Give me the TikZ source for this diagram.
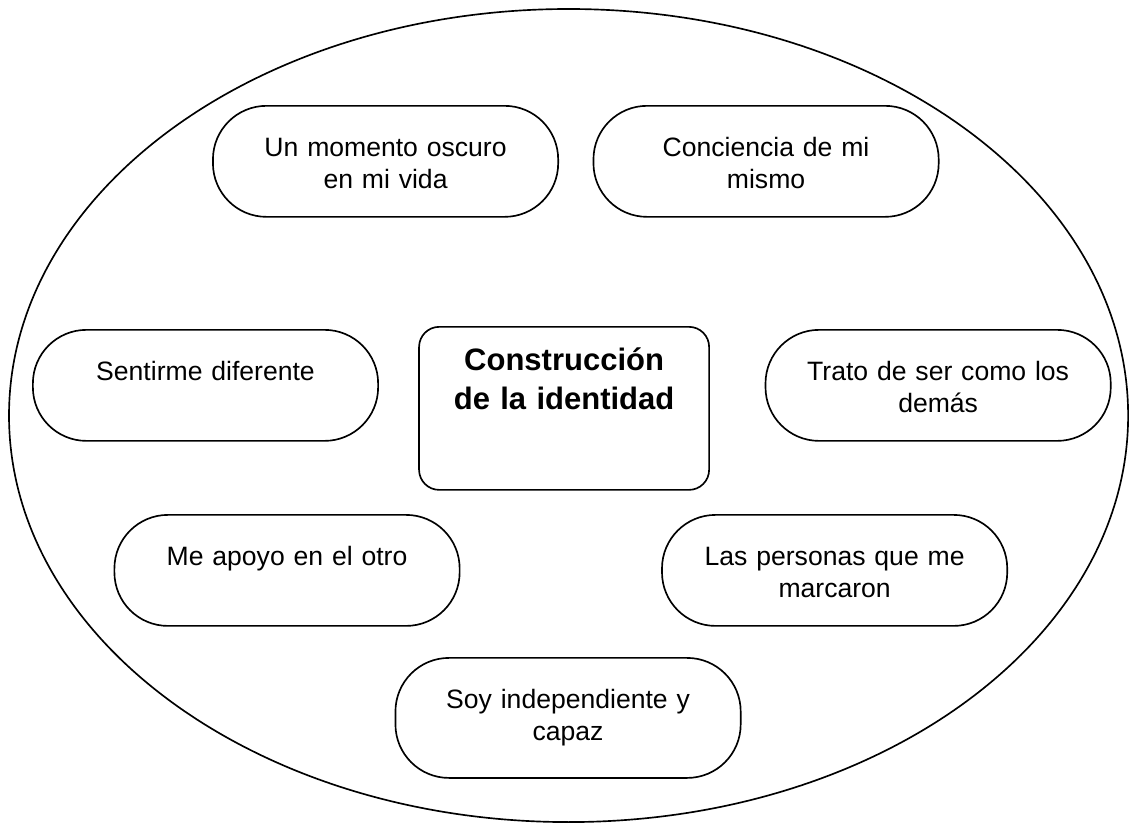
\documentclass[tikz,border=0pt]{standalone}
\usepackage{fontspec}
\setmainfont{Liberation Sans}
\begin{document}
\begin{tikzpicture}[
  idea/.style={draw, line width=0.75pt, rounded corners=0.85cm, anchor=north, inner sep=0pt,
    text width=5.48cm, align=center, text height=0.8cm, text depth=0.962cm,
    font=\fontsize{12}{14.4}\selectfont},
  core/.style={draw, line width=0.75pt, rounded corners=0.32cm, anchor=north, inner sep=0pt,
    text width=4.604cm, align=center, text height=0.698cm, text depth=1.89cm,
    font=\bfseries\fontsize{14}{17.5}\selectfont}]
\useasboundingbox (0,0) rectangle (18.0,13.081);
% outer ellipse
\draw[line width=0.75pt] (9.025,6.485) ellipse (8.882cm and 6.453cm);
% centre
\node[core] (identidad) at (8.954,7.906) {Construcción\\de la identidad};
% ideas round it
\node[idea] (oscuro) at (6.120,11.414) {Un momento oscuro\\en mi vida};
\node[idea] (conciencia) at (12.160,11.414) {Conciencia de mi\\mismo};
\node[idea] (diferente) at (3.262,7.858) {Sentirme diferente};
\node[idea] (trato) at (14.891,7.858) {Trato de ser como los\\demás};
\node[idea] (apoyo) at (4.556,4.921) {Me apoyo en el otro};
\node[idea] (personas) at (13.248,4.921) {Las personas que me\\marcaron};
\node[idea, text depth=1.105cm] (capaz) at (9.017,2.651) {Soy independiente y\\capaz};
\end{tikzpicture}
\end{document}
